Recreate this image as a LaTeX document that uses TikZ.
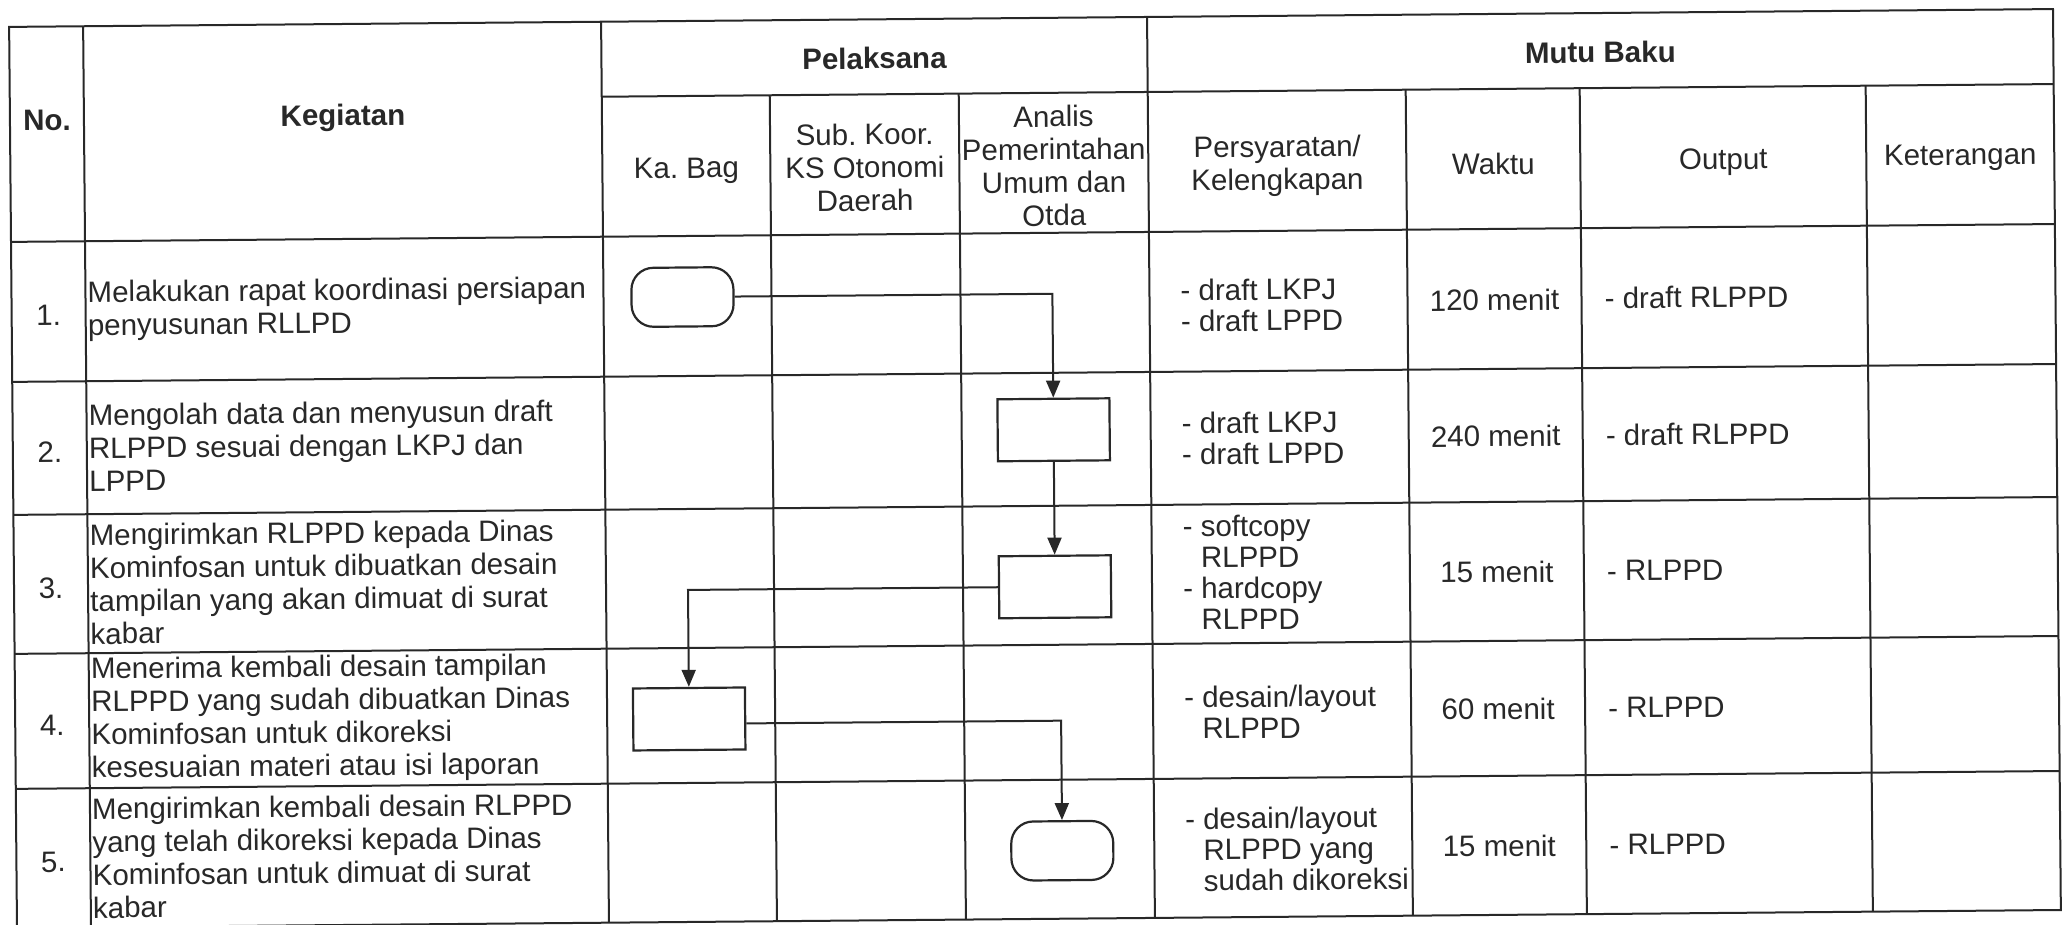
\documentclass[tikz,border=0pt]{standalone}
\usepackage{fontspec}
\setmainfont{Liberation Sans}
\usetikzlibrary{arrows.meta}
\definecolor{ink}{RGB}{40,40,40}
\frenchspacing
\begin{document}
\begin{tikzpicture}[x=1pt,y=-1pt,
  every node/.style={inner sep=0pt, text=ink},
  grid/.style={draw=ink, line width=2pt},
  txt/.style={font=\fontsize{29.5}{33}\selectfont, align=left},
  ctxt/.style={font=\fontsize{29.5}{33}\selectfont, align=center},
  hdr/.style={font=\fontsize{29.5}{33}\selectfont\bfseries, align=center},
  req/.style={font=\fontsize{29.5}{31}\selectfont, align=left},
  term/.style={draw=ink, line width=2.2pt, rounded corners=22pt, minimum width=102pt, minimum height=59pt},
  proc/.style={draw=ink, line width=2.2pt, minimum width=112pt, minimum height=62pt},
  flow/.style={draw=ink, line width=2pt, -{Triangle[length=17pt,width=14pt]}},
]
\useasboundingbox (0,0) rectangle (2067,925);
\fill[white] (0,0) rectangle (2067,925);
\begin{scope}[rotate around={0.5:(1030,470)}, transform shape]
% table grid
\draw[grid] (13,18) rectangle (2057,919);
\draw[grid] (605,93) -- (2057,93);
\draw[grid] (13,233) -- (2057,233);
\draw[grid] (13,373) -- (2057,373);
\draw[grid] (13,506) -- (2057,506);
\draw[grid] (13,645) -- (2057,645);
\draw[grid] (13,780) -- (2057,780);
\draw[grid] (87,18) -- (87,919);
\draw[grid] (605,18) -- (605,919);
\draw[grid] (1151,18) -- (1151,919);
\draw[grid] (773,93) -- (773,919);
\draw[grid] (962,93) -- (962,919);
\draw[grid] (1409,93) -- (1409,919);
\draw[grid] (1583,93) -- (1583,919);
\draw[grid] (1869,93) -- (1869,919);
% headers
\node[hdr] (hno) at (50,112) {No.};
\node[hdr] (hkeg) at (346,112) {Kegiatan};
\node[hdr] (hpel) at (878,57) {Pelaksana};
\node[hdr] (hmutu) at (1604,57) {Mutu Baku};
\node[ctxt] (hkabag) at (689,168) {Ka. Bag};
\node[ctxt] (hsub) at (867.5,166) {Sub. Koor.\\KS Otonomi\\Daerah};
\node[ctxt] (hana) at (1056.5,166) {Analis\\Pemerintahan\\Umum dan\\Otda};
\node[ctxt] (hpers) at (1280,168) {Persyaratan/\\Kelengkapan};
\node[ctxt] (hwak) at (1496,168) {Waktu};
\node[ctxt] (hout) at (1726,168) {Output};
\node[ctxt] (hket) at (1963,166) {Keterangan};
% numbers
\node[ctxt] (n1) at (50,307) {1.};
\node[ctxt] (n2) at (50,443.5) {2.};
\node[ctxt] (n3) at (50,579.5) {3.};
\node[ctxt] (n4) at (50,716.5) {4.};
\node[ctxt] (n5) at (50,853.5) {5.};
% kegiatan
\node[txt,anchor=west] (k1) at (89,303) {Melakukan rapat koordinasi persiapan\\penyusunan RLLPD};
\node[txt,anchor=west] (k2) at (89,439.5) {Mengolah data dan menyusun draft\\RLPPD sesuai dengan LKPJ dan\\LPPD};
\node[txt,anchor=west] (k3) at (89,576) {Mengirimkan RLPPD kepada Dinas\\Kominfosan untuk dibuatkan desain\\tampilan yang akan dimuat di surat\\kabar};
\node[txt,anchor=west] (k4) at (89,712.5) {Menerima kembali desain tampilan\\RLPPD yang sudah dibuatkan Dinas\\Kominfosan untuk dikoreksi\\kesesuaian materi atau isi laporan};
\node[txt,anchor=west] (k5) at (89,850) {Mengirimkan kembali desain RLPPD\\yang telah dikoreksi kepada Dinas\\Kominfosan untuk dimuat di surat\\kabar};
% persyaratan
\node[req,anchor=west] (p1) at (1182,307) {- draft LKPJ\\- draft LPPD};
\node[req,anchor=west] (p2) at (1182,440) {- draft LKPJ\\- draft LPPD};
\node[req,anchor=west] (p3) at (1182,574) {- softcopy\\\phantom{- }RLPPD\\- hardcopy\\\phantom{- }RLPPD};
\node[req,anchor=west] (p4) at (1182,714) {- desain/layout\\\phantom{- }RLPPD};
\node[req,anchor=west] (p5) at (1182,851) {- desain/layout\\\phantom{- }RLPPD yang\\\phantom{- }sudah dikoreksi};
% waktu
\node[ctxt] (w1) at (1496,304) {120 menit};
\node[ctxt] (w2) at (1496,440) {240 menit};
\node[ctxt] (w3) at (1496,576) {15 menit};
\node[ctxt] (w4) at (1496,713) {60 menit};
\node[ctxt] (w5) at (1496,850) {15 menit};
% output
\node[txt,anchor=west] (o1) at (1606,303) {- draft RLPPD};
\node[txt,anchor=west] (o2) at (1606,440) {- draft RLPPD};
\node[txt,anchor=west] (o3) at (1606,576) {- RLPPD};
\node[txt,anchor=west] (o4) at (1606,713) {- RLPPD};
\node[txt,anchor=west] (o5) at (1606,850) {- RLPPD};
% flow shapes
\node[term] (t1) at (684,294) {};
\node[proc] (b2) at (1054,430) {};
\node[proc] (b3) at (1054,587) {};
\node[proc] (b4) at (687,716) {};
\node[term] (t5) at (1059,851) {};
% connectors
\draw[flow] (t1.east) -| (b2.north);
\draw[flow] (b2.south) -- (b3.north);
\draw[flow] (b3.west) -| (b4.north);
\draw[flow] ([yshift=-5pt]b4.east) -| (t5.north);
\end{scope}
\end{tikzpicture}
\end{document}
